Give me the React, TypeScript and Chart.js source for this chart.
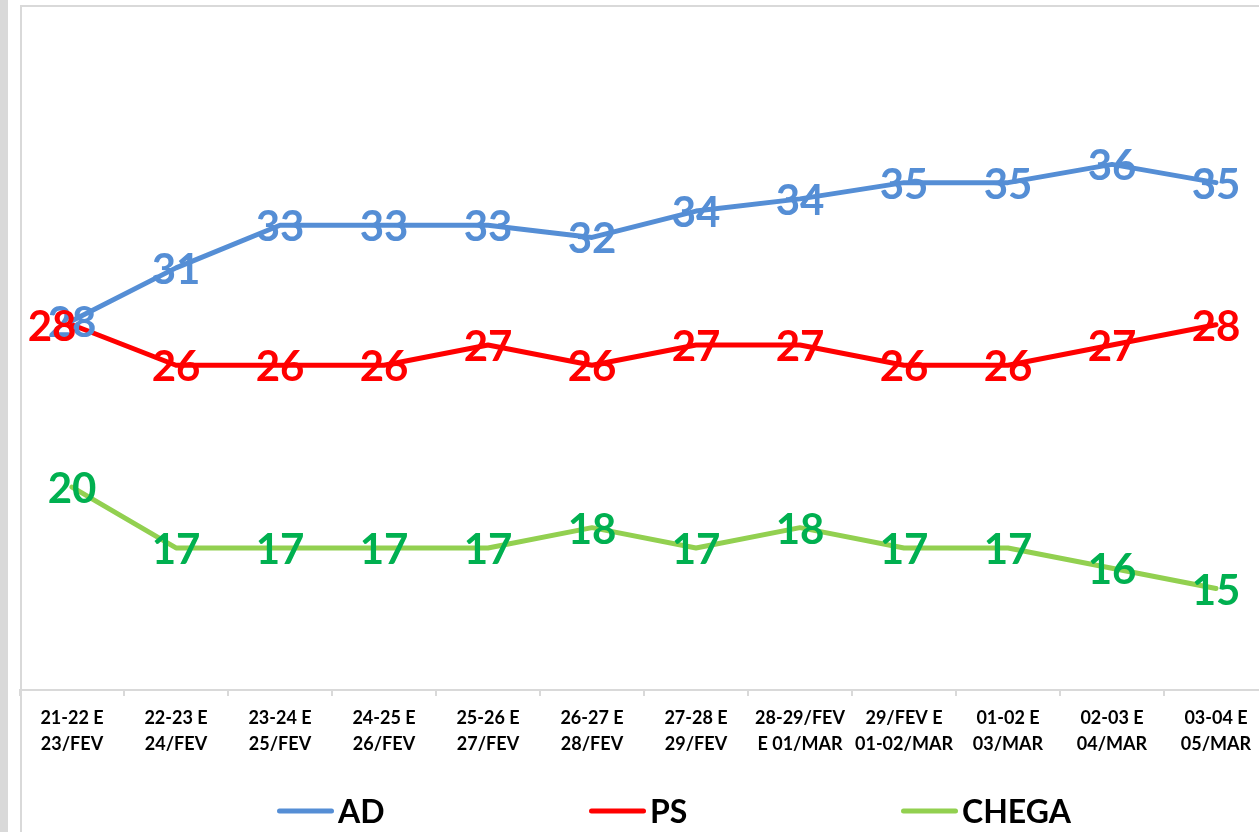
import React, { useEffect, useRef } from "react";
import { Chart, registerables } from "chart.js";

Chart.register(...registerables);

const categories: string[][] = [
  ["21-22 E", "23/FEV"],
  ["22-23 E", "24/FEV"],
  ["23-24 E", "25/FEV"],
  ["24-25 E", "26/FEV"],
  ["25-26 E", "27/FEV"],
  ["26-27 E", "28/FEV"],
  ["27-28 E", "29/FEV"],
  ["28-29/FEV", "E 01/MAR"],
  ["29/FEV E", "01-02/MAR"],
  ["01-02 E", "03/MAR"],
  ["02-03 E", "04/MAR"],
  ["03-04 E", "05/MAR"],
];

const adValues = [28.2, 30.8, 32.9, 32.9, 32.9, 32.3, 33.6, 34.2, 35.0, 35.0, 35.9, 35.0];
const psValues = [28, 26, 26, 26, 27, 26, 27, 27, 26, 26, 27, 28];
const chegaValues = [20, 17, 17, 17, 17, 18, 17, 18, 17, 17, 16, 15];

const seriesNames = ["AD", "PS", "CHEGA"];
const lineColors = ["#558ED5", "#FF0000", "#92D050"];
const labelColors = ["#558ED5", "#FF0000", "#00B050"];

const FONT = "Lato, 'Open Sans', sans-serif";

const valueLabelPlugin = {
  id: "valueLabels",
  afterDatasetsDraw(chart: any) {
    const ctx = chart.ctx;
    ctx.save();
    ctx.font = `bold 42px ${FONT}`;
    ctx.textAlign = "center";
    ctx.textBaseline = "alphabetic";
    chart.data.datasets.forEach((ds: any, di: number) => {
      const meta = chart.getDatasetMeta(di);
      ctx.fillStyle = labelColors[di];
      meta.data.forEach((pt: any, i: number) => {
        // PS first label sits to the left of its point in the original
        const dx = di === 1 && i === 0 ? -20 : 0;
        ctx.fillText(String(Math.round(ds.data[i])), pt.x + dx, pt.y + 16);
      });
    });
    ctx.restore();
  },
};

const legendPlugin = {
  id: "customLegend",
  afterDraw(chart: any) {
    const ctx = chart.ctx;
    const area = chart.chartArea;
    const slot = 312;
    const lineLen = 57;
    const y = 811;
    ctx.save();
    ctx.font = `bold 32px ${FONT}`;
    ctx.textBaseline = "alphabetic";
    ctx.textAlign = "left";
    chart.data.datasets.forEach((ds: any, i: number) => {
      const x0 = area.left + 257 + i * slot;
      ctx.strokeStyle = lineColors[i];
      ctx.lineWidth = 5;
      ctx.lineCap = "round";
      ctx.beginPath();
      ctx.moveTo(x0 + 2.5, y);
      ctx.lineTo(x0 + lineLen - 2.5, y);
      ctx.stroke();
      ctx.fillStyle = "#000000";
      ctx.fillText(ds.label, x0 + lineLen + 4, y + 12);
    });
    ctx.restore();
  },
};

export default function App() {
  const canvasRef = useRef<HTMLCanvasElement | null>(null);

  useEffect(() => {
    document.body.style.margin = "0";
    document.documentElement.style.overflow = "hidden";
    const canvas = canvasRef.current;
    if (!canvas) return;
    const seriesData = [adValues, psValues, chegaValues];
    const chart = new Chart(canvas, {
      type: "line",
      data: {
        labels: categories,
        datasets: seriesNames.map((name, i) => ({
          label: name,
          data: seriesData[i],
          borderColor: lineColors[i],
          backgroundColor: lineColors[i],
          borderWidth: 5,
          borderCapStyle: "round",
          borderJoinStyle: "round",
          pointRadius: 0,
          pointHoverRadius: 0,
          tension: 0,
          fill: false,
        })),
      },
      options: {
        animation: false,
        responsive: true,
        maintainAspectRatio: false,
        layout: { padding: { left: 20, right: 22, top: 0, bottom: 0 } },
        plugins: {
          legend: { display: false },
          tooltip: { enabled: false },
        },
        scales: {
          x: {
            type: "category",
            offset: true,
            grid: {
              display: true,
              drawOnChartArea: false,
              drawTicks: true,
              tickLength: 6,
              color: "#d9d9d9",
              lineWidth: 2,
              offset: true,
            },
            border: { display: true, color: "#d9d9d9", width: 2 },
            ticks: {
              color: "#000000",
              font: { family: FONT, weight: "bold", size: 18, lineHeight: 1.45 },
              padding: 9,
              maxRotation: 0,
              minRotation: 0,
              autoSkip: false,
            },
            afterFit(scale: any) {
              scale.height = 142;
            },
          },
          y: {
            display: false,
            min: 10,
            max: 44,
          },
        },
      },
      plugins: [valueLabelPlugin, legendPlugin],
    } as any);
    return () => chart.destroy();
  }, []);

  return (
    <div
      style={{
        position: "fixed",
        left: 0,
        top: 0,
        width: "1259px",
        height: "832px",
        overflow: "hidden",
        background: "#ffffff",
      }}
    >
      <div
        style={{
          position: "absolute",
          left: 0,
          top: 0,
          width: "8px",
          height: "832px",
          background: "#d9d9d9",
        }}
      />
      <div
        style={{
          position: "absolute",
          left: "20px",
          top: "5px",
          width: "1400px",
          height: "900px",
          borderLeft: "2px solid #d9d9d9",
          borderTop: "2px solid #d9d9d9",
        }}
      />
      <div style={{ position: "absolute", left: 0, top: 0, width: "1290px", height: "832px" }}>
        <canvas ref={canvasRef} />
      </div>
    </div>
  );
}
